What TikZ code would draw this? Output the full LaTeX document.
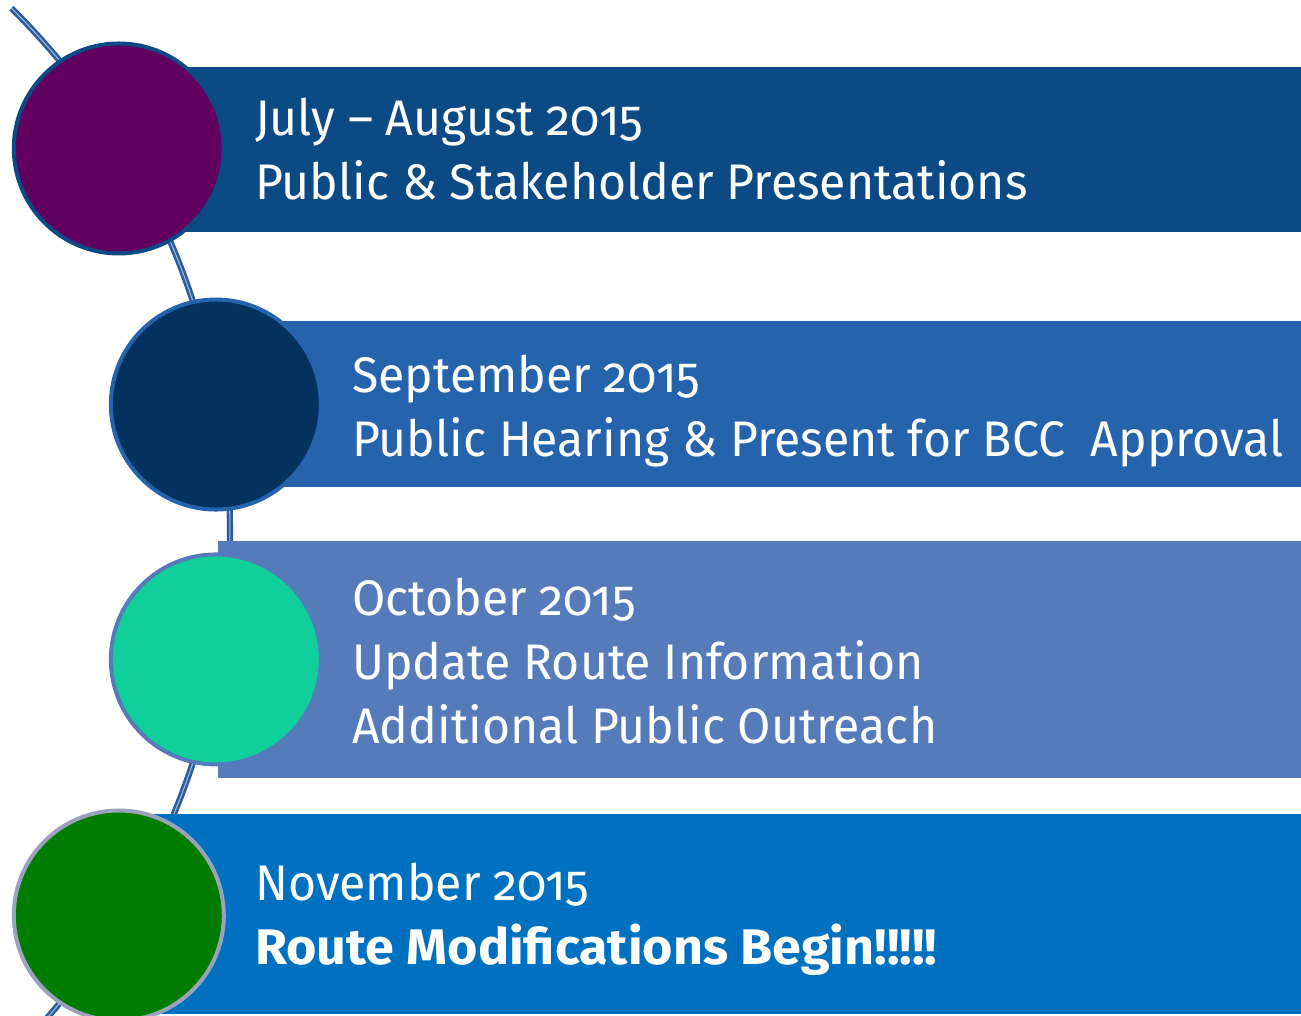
\documentclass[tikz,border=0pt]{standalone}
\usepackage{fontspec}
\setmainfont{Fira Sans}[Numbers=OldStyle, UprightFeatures={FakeStretch=0.964}, BoldFeatures={FakeStretch=1.04}]
\usetikzlibrary{calc}
\usetikzlibrary{positioning}

\definecolor{barone}{HTML}{0B4A85}
\definecolor{bartwo}{HTML}{2563AD}
\definecolor{barthree}{HTML}{557BBB}
\definecolor{barfour}{HTML}{0070C0}
\definecolor{dotone}{HTML}{620062}
\definecolor{dottwo}{HTML}{03325F}
\definecolor{dotthree}{HTML}{11CF9A}
\definecolor{dotfour}{HTML}{007D00}
\definecolor{rimfour}{HTML}{9BA3BC}
\definecolor{spineblue}{HTML}{2A5D9E}
\definecolor{spinelight}{HTML}{A9BEDC}

\begin{document}
\begin{tikzpicture}[x=1pt,y=1pt,
  bar/.style={rectangle, inner sep=0pt, anchor=south west},
  dot/.style={circle, inner sep=0pt, minimum size=210pt, line width=4pt},
  spine/.style={draw=spineblue, line width=2.6pt, double=spinelight, double distance=1pt},
  caption/.style={text=white, align=left, anchor=base west, inner sep=0pt,
    font=\fontsize{50}{64}\selectfont}]

% page frame
\useasboundingbox (0,0) rectangle (1301,1016);
\clip (0,0) rectangle (1301,1016);

% centre of the big arc
\coordinate (hub) at (-507,484);

% time line arc
\draw[spine] ($(hub)+(45.3:737)$) arc[start angle=45.3, end angle=-48, radius=737];

% bars
\node[bar, fill=barone, minimum width=1184pt, minimum height=165pt] (bar1) at (117,784) {};
\node[bar, fill=bartwo, minimum width=1087pt, minimum height=166pt] (bar2) at (214,529) {};
\node[bar, fill=barthree, minimum width=1083pt, minimum height=237pt] (bar3) at (218,238) {};
\node[bar, fill=barfour, minimum width=1183pt, minimum height=200pt] (bar4) at (118,2) {};

% circles on the arc
\node[dot, fill=dotone, draw=barone] (dot1) at ($(hub)+(31.5:734)$) {};
\node[dot, fill=dottwo, draw=bartwo] (dot2) at ($(hub)+(10:734)$) {};
\node[dot, fill=dotthree, draw=barthree] (dot3) at ($(hub)+(-10:734)$) {};
\node[dot, fill=dotfour, draw=rimfour] (dot4) at ($(hub)+(-31.5:734)$) {};

% texts (base = last line)
\node[caption] (text1) at (255,816) {July – August 2015\\Public \& Stakeholder Presentations};
\node[caption] (text2) at (352,559) {September 2015\\Public Hearing \& Present for BCC~ Approval};
\node[caption] (text3) at (352,272) {October 2015\\Update Route Information\\Additional Public Outreach};
\node[caption] (text4) at (255,51) {November 2015\\\textbf{Route Modifications Begin!!!!!}};

\end{tikzpicture}
\end{document}
